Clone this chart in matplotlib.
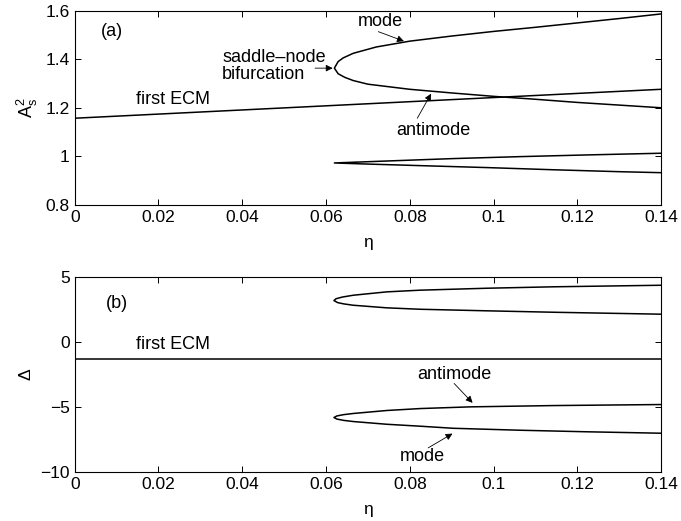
import matplotlib
matplotlib.use("Agg")
import matplotlib.pyplot as plt

plt.rcParams['font.family'] = ['Liberation Sans', 'DejaVu Sans']
plt.rcParams['mathtext.default'] = 'regular'
plt.rcParams['font.size'] = 13

# (a) squared amplitude A_s^2 versus eta
ecm_eta = [0.0, 0.14]
ecm_a2 = [1.157, 1.276]

# mode / antimode pair: upper end -> saddle-node point -> lower end
pair_a_eta = [0.14, 0.13, 0.12, 0.11, 0.10, 0.09, 0.08, 0.072, 0.0665, 0.0641, 0.0629, 0.0620,
              0.0629, 0.0645, 0.0665, 0.07, 0.08, 0.09, 0.10, 0.11, 0.12, 0.13, 0.14]
pair_a_a2 = [1.586, 1.567, 1.549, 1.531, 1.514, 1.495, 1.474, 1.450, 1.424, 1.405, 1.390, 1.363,
             1.340, 1.325, 1.312, 1.297, 1.276, 1.261, 1.247, 1.235, 1.222, 1.211, 1.200]

# second (narrow) pair near A_s^2 = 1
pair2_a_eta = [0.14, 0.1223, 0.1063, 0.0904, 0.0745, 0.0620,
               0.0689, 0.0825, 0.0984, 0.1143, 0.1302, 0.14]
pair2_a_a2 = [1.013, 1.006, 0.999, 0.991, 0.981, 0.973,
              0.969, 0.962, 0.954, 0.945, 0.937, 0.933]

# (b) frequency detuning Delta versus eta
ecm_delta = [-1.28, -1.28]

pair_b_eta = [0.14, 0.1143, 0.0984, 0.0825, 0.0745, 0.0665, 0.0639, 0.0624, 0.0619,
              0.0628, 0.0643, 0.0665, 0.0745, 0.0825, 0.0984, 0.1143, 0.14]
pair_b_delta = [4.39, 4.27, 4.16, 4.01, 3.88, 3.62, 3.48, 3.35, 3.21,
                3.05, 2.95, 2.85, 2.65, 2.54, 2.42, 2.31, 2.16]

pair2_b_eta = [0.14, 0.1143, 0.0944, 0.0825, 0.0745, 0.0665, 0.0642, 0.0626, 0.0619,
               0.0626, 0.0642, 0.0665, 0.0745, 0.0825, 0.0904, 0.1063, 0.1223, 0.14]
pair2_b_delta = [-4.80, -4.88, -4.98, -5.11, -5.26, -5.49, -5.58, -5.68, -5.80,
                 -5.92, -6.02, -6.11, -6.32, -6.47, -6.63, -6.78, -6.90, -7.01]

eta_ticks = [0, 0.02, 0.04, 0.06, 0.08, 0.1, 0.12, 0.14]
eta_ticklabels = ['0', '0.02', '0.04', '0.06', '0.08', '0.1', '0.12', '0.14']


def style_axes(ax):
    ax.set_xlim(0, 0.14)
    ax.set_xticks(eta_ticks)
    ax.set_xticklabels(eta_ticklabels)
    ax.tick_params(direction='in', length=4, width=0.7, top=True, right=True, labelsize=12.5)
    for sp in ax.spines.values():
        sp.set_linewidth(0.8)
    ax.set_xlabel('η', fontsize=12.5, labelpad=7)


def arrow(ax, tail, head):
    ax.annotate('', xy=head, xytext=tail,
                arrowprops=dict(arrowstyle='-|>', color='k', lw=0.6,
                                mutation_scale=10, shrinkA=0, shrinkB=0))


fig = plt.figure(figsize=(6.81, 5.21), dpi=100)
ax1 = fig.add_axes([0.1097, 0.6065, 0.861, 0.3733])
ax2 = fig.add_axes([0.1097, 0.094, 0.861, 0.3737])

lw = 1.1
ax1.plot(ecm_eta, ecm_a2, color='k', lw=lw)
ax1.plot(pair_a_eta, pair_a_a2, color='k', lw=lw)
ax1.plot(pair2_a_eta, pair2_a_a2, color='k', lw=lw)
style_axes(ax1)
ax1.set_ylim(0.8, 1.6)
ax1.set_yticks([0.8, 1.0, 1.2, 1.4, 1.6])
ax1.set_yticklabels(['0.8', '1', '1.2', '1.4', '1.6'])
ax1.set_ylabel('A$_s^2$', fontsize=13, labelpad=4)

ax1.text(0.0089, 1.512, '(a)', ha='center', va='center')
ax1.text(0.0234, 1.235, 'first ECM', ha='center', va='center')
ax1.text(0.0352, 1.37, 'saddle\u2013node\nbifurcation', ha='left', va='center', linespacing=1.0)
arrow(ax1, (0.0574, 1.363), (0.0616, 1.363))
ax1.text(0.073, 1.556, 'mode', ha='center', va='center')
arrow(ax1, (0.0725, 1.513), (0.0786, 1.474))
ax1.text(0.0856, 1.108, 'antimode', ha='center', va='center')
arrow(ax1, (0.0818, 1.157), (0.0851, 1.258))

ax2.plot(ecm_eta, ecm_delta, color='k', lw=lw)
ax2.plot(pair_b_eta, pair_b_delta, color='k', lw=lw)
ax2.plot(pair2_b_eta, pair2_b_delta, color='k', lw=lw)
style_axes(ax2)
ax2.set_ylim(-10, 5)
ax2.set_yticks([-10, -5, 0, 5])
ax2.set_yticklabels(['\u221210', '\u22125', '0', '5'])
ax2.set_ylabel('Δ', fontsize=12.5, labelpad=5)

ax2.text(0.0100, 2.96, '(b)', ha='center', va='center')
ax2.text(0.0234, -0.2, 'first ECM', ha='center', va='center')
ax2.text(0.0907, -2.5, 'antimode', ha='center', va='center')
arrow(ax2, (0.0906, -3.18), (0.0950, -4.67))
ax2.text(0.0829, -8.83, 'mode', ha='center', va='center')
arrow(ax2, (0.0844, -8.14), (0.0902, -7.04))

fig.savefig('out.png', dpi=100)
